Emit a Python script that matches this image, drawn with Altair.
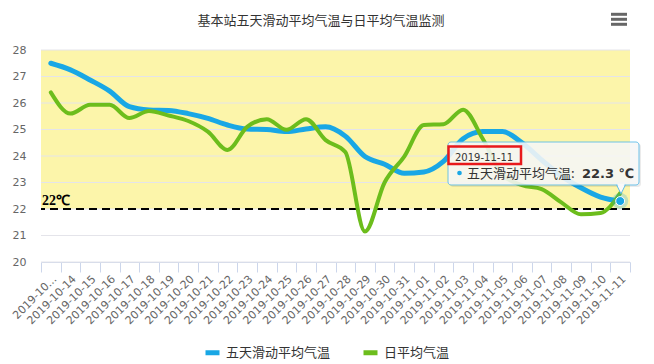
import altair as alt
import pandas as pd

dates = [
    "2019-10-13", "2019-10-14", "2019-10-15", "2019-10-16", "2019-10-17",
    "2019-10-18", "2019-10-19", "2019-10-20", "2019-10-21", "2019-10-22",
    "2019-10-23", "2019-10-24", "2019-10-25", "2019-10-26", "2019-10-27",
    "2019-10-28", "2019-10-29", "2019-10-30", "2019-10-31", "2019-11-01",
    "2019-11-02", "2019-11-03", "2019-11-04", "2019-11-05", "2019-11-06",
    "2019-11-07", "2019-11-08", "2019-11-09", "2019-11-10", "2019-11-11",
]
tick_labels = ["2019-10..."] + dates[1:]
series_names = ["五天滑动平均气温", "日平均气温"]
five_day = [27.5, 27.25, 26.87, 26.45, 25.86, 25.74, 25.72, 25.6, 25.42, 25.17,
            25.02, 25.0, 24.92, 25.02, 25.1, 24.75, 23.98, 23.69, 23.35, 23.4,
            23.8, 24.65, 24.92, 24.92, 24.5, 23.85, 23.25, 22.8, 22.45, 22.3]
daily = [26.4, 25.6, 25.93, 25.93, 25.43, 25.7, 25.53, 25.32, 24.92, 24.23,
         25.1, 25.39, 24.99, 25.39, 24.6, 24.15, 21.15, 23.0, 23.98, 25.17,
         25.2, 25.75, 24.65, 23.3, 22.9, 22.75, 22.25, 21.8, 21.85, 22.6]
y_ticks = [20, 21, 22, 23, 24, 25, 26, 27, 28]
threshold = 22
band_low, band_high = 22, 28
threshold_label = "22℃"
title_text = "基本站五天滑动平均气温与日平均气温监测"
tip_date = "2019-11-11"
tip_value = 22.3
tip_unit = "℃"

BLUE = "#19a7e5"
GREEN = "#6cbd1c"
W, H = 589, 212

df = pd.DataFrame({
    "date": dates * 2,
    "series": [series_names[0]] * len(dates) + [series_names[1]] * len(dates),
    "value": five_day + daily,
})
last = pd.DataFrame({"date": [dates[-1]], "value": [five_day[-1]]})
labels_df = pd.DataFrame({"date": dates, "label": tick_labels})

x_scale = alt.Scale(type="band", domain=dates, paddingInner=0, paddingOuter=0)
x_axis = alt.Axis(labels=False, tickSize=10, tickColor="#ccd6eb",
                  domainColor="#ccd6eb", tickBand="extent", grid=False)


def x_enc():
    return alt.X("date:N", sort=dates, bandPosition=0.5, title=None,
                 scale=x_scale, axis=x_axis)


y_scale = alt.Scale(domain=[y_ticks[0], y_ticks[-1]], nice=False, zero=False)
y_axis = alt.Axis(values=y_ticks, ticks=False, domain=False, grid=False,
                  labelOverlap=False, labelPadding=15, labelFont="DejaVu Sans",
                  labelFontSize=11, labelColor="#666666")


def y_enc(field):
    return alt.Y(field, scale=y_scale, axis=y_axis, title=None)


color = alt.Color("series:N", scale=alt.Scale(domain=series_names, range=[BLUE, GREEN]),
                  legend=alt.Legend(orient="none", legendX=162, legendY=293,
                                    direction="horizontal", title=None,
                                    symbolType="stroke", symbolStrokeWidth=5,
                                    symbolSize=196, labelFont="Noto Sans CJK SC",
                                    labelFontSize=13, labelColor="#333333",
                                    labelOffset=4, columnPadding=22))

band = alt.Chart(pd.DataFrame({"lo": [band_low], "hi": [band_high]})).mark_rect(
    color="#fcf5aa").encode(
    x=alt.value(0), x2=alt.value(W), y=y_enc("lo:Q"), y2="hi:Q")

grid = alt.Chart(pd.DataFrame({"v": y_ticks})).mark_rule(
    color="#e4e4ea", strokeWidth=1).encode(y=y_enc("v:Q"))

thr = alt.Chart(pd.DataFrame({"v": [threshold]})).mark_rule(
    color="#000000", strokeWidth=2, strokeDash=[8, 5]).encode(y=y_enc("v:Q"))
thr_text = alt.Chart(pd.DataFrame({"v": [threshold], "t": [threshold_label]})).mark_text(
    align="left", baseline="alphabetic", dy=-4, fontWeight="bold",
    font="Liberation Serif", fontSize=14, color="#000000").encode(
    x=alt.value(1), y=y_enc("v:Q"), text="t:N")

line_blue = alt.Chart(df[df.series == series_names[0]]).mark_line(
    interpolate="monotone", strokeWidth=5, strokeCap="round", strokeJoin="round").encode(
    x=x_enc(), y=y_enc("value:Q"), color=color)
line_green = alt.Chart(df[df.series == series_names[1]]).mark_line(
    interpolate="monotone", strokeWidth=4, strokeCap="round", strokeJoin="round").encode(
    x=x_enc(), y=y_enc("value:Q"), color=color)

x_labels = alt.Chart(labels_df).mark_text(
    angle=315, align="right", baseline="middle", dx=4, dy=2, font="DejaVu Sans",
    fontSize=11, color="#666666").encode(
    x=x_enc(), y=alt.value(H + 17), text="label:N")

halo = alt.Chart(last).mark_circle(size=260, color=BLUE, opacity=0.25).encode(
    x=x_enc(), y=y_enc("value:Q"))
dot = alt.Chart(last).mark_circle(size=80, color=BLUE, opacity=1, stroke="white",
                                  strokeWidth=1).encode(x=x_enc(), y=y_enc("value:Q"))

one = pd.DataFrame({"a": [0]})
tip_shadow = alt.Chart(one).mark_rect(fill="#000000", opacity=0.08, cornerRadius=3).encode(
    x=alt.value(409), x2=alt.value(600), y=alt.value(93.5), y2=alt.value(137))
tip_tail = alt.Chart(one).mark_point(
    shape="M-1,-1L0,1L1,-1Z", size=90, filled=True, fill="#f9f9f9",
    stroke="#5dbce9", strokeWidth=1, opacity=1).encode(
    x=alt.value(580), y=alt.value(139))
tip_box = alt.Chart(one).mark_rect(fill="#f9f9f9", opacity=0.88, stroke="#5dbce9",
                                   strokeWidth=1, cornerRadius=3).encode(
    x=alt.value(407), x2=alt.value(598), y=alt.value(92), y2=alt.value(135))
tip_tail_cover = alt.Chart(one).mark_point(
    shape="M-1,-1L0,1L1,-1Z", size=60, filled=True, fill="#f9f9f9",
    strokeWidth=0, opacity=1).encode(x=alt.value(580), y=alt.value(137.5))
tip_red = alt.Chart(one).mark_rect(fill=None, stroke="#e8191b", strokeWidth=2.5).encode(
    x=alt.value(407.5), x2=alt.value(480), y=alt.value(96.5), y2=alt.value(114))
tip_date_t = alt.Chart(pd.DataFrame({"t": [tip_date]})).mark_text(
    align="left", baseline="alphabetic", font="DejaVu Sans", fontSize=10,
    color="#333333").encode(x=alt.value(414), y=alt.value(111), text="t:N")
tip_dot = alt.Chart(one).mark_circle(size=22, color=BLUE, opacity=1).encode(
    x=alt.value(418.5), y=alt.value(123))
tip_name = alt.Chart(pd.DataFrame({"t": [series_names[0] + ": "]})).mark_text(
    align="left", baseline="alphabetic", font="Noto Sans CJK SC", fontSize=13,
    color="#333333").encode(x=alt.value(426), y=alt.value(128), text="t:N")
tip_val = alt.Chart(pd.DataFrame({"t": ["%.1f %s" % (tip_value, tip_unit)]})).mark_text(
    align="left", baseline="alphabetic", font="DejaVu Sans", fontSize=13,
    fontWeight="bold", color="#333333").encode(x=alt.value(541), y=alt.value(128), text="t:N")

title = alt.Chart(pd.DataFrame({"t": [title_text]})).mark_text(
    align="center", baseline="middle", font="Noto Sans CJK SC", fontSize=13,
    color="#333333").encode(x=alt.value(280), y=alt.value(-29), text="t:N")

menu = [alt.Chart(one).mark_rule(color="#666666", strokeWidth=3).encode(
    x=alt.value(570), x2=alt.value(586), y=alt.value(yy)) for yy in (-35.7, -30.7, -25.7)]

chart = alt.layer(
    band, grid, thr, thr_text, line_blue, line_green, x_labels, halo, dot,
    tip_shadow, tip_tail, tip_box, tip_tail_cover, tip_red, tip_date_t, tip_dot,
    tip_name, tip_val, title, *menu
).properties(
    width=W, height=H,
    autosize=alt.AutoSizeParams(type="none"),
    padding={"left": 33, "top": 42, "right": 16, "bottom": 100},
    background="white",
).configure_view(stroke=None)

chart.save("out.html", embed_options={"renderer": "svg", "actions": False})
